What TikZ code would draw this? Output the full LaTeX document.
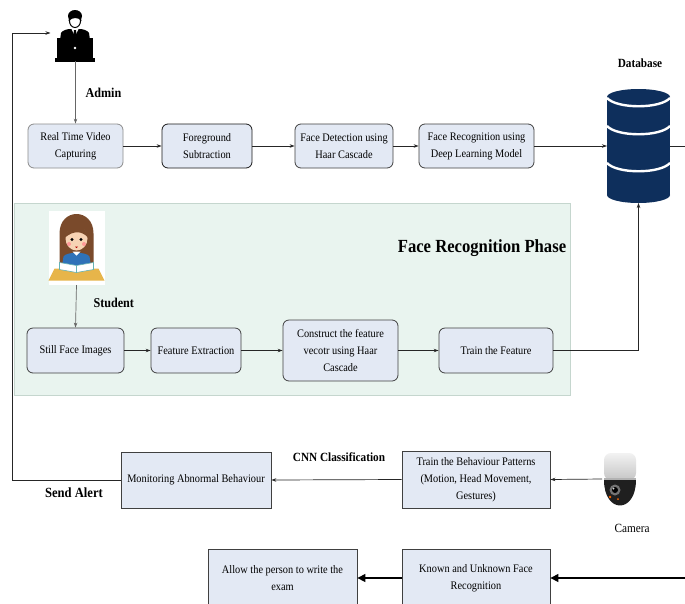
\documentclass[tikz,border=0pt]{standalone}
\usepackage{fontspec}
\setmainfont{Liberation Serif}[FakeStretch=0.9]
\usetikzlibrary{arrows.meta}

\definecolor{boxfill}{HTML}{E3E9F4}
\definecolor{phasefill}{HTML}{E9F4EF}
\definecolor{phaseline}{HTML}{C5D6CE}
\definecolor{dbnavy}{HTML}{0E2F5C}
\definecolor{hairbrown}{HTML}{7A4A2B}
\definecolor{skin}{HTML}{F7D3B4}
\definecolor{dress}{HTML}{2F72B8}
\definecolor{deskyellow}{HTML}{E7B54A}

\newcommand\bxfont{\fontsize{11.5}{17}\selectfont}
\newcommand\lblfont[1]{\fontsize{#1}{#1}\selectfont\bfseries}

\tikzset{
  procbox/.style={draw=black!75, line width=0.8pt, fill=boxfill, rounded corners=6pt,
                  align=center, inner sep=1pt, font=\bxfont},
  sqbox/.style={procbox, sharp corners},
  link/.style={draw=black!85, line width=0.7pt, -{Stealth[length=5pt,width=3.5pt]}},
  plain/.style={draw=black!85, line width=0.7pt},
  bigarrow/.style={draw=black, line width=1.2pt, -{Triangle[length=8pt,width=8pt]}},
  holder/.style={inner sep=0pt, outer sep=0pt},
}

\begin{document}
\begin{tikzpicture}[x=1pt,y=-1pt]
\clip (0,0) rectangle (685,603);
\fill[white] (0,0) rectangle (685,603);

% face recognition phase panel
\filldraw[fill=phasefill, draw=phaseline, line width=0.8pt] (14,203) rectangle (570,395);
\node[font=\lblfont{18.5}] (phase) at (482,248) {Face Recognition Phase};

% ---------- admin icon ----------
\node[holder, minimum width=50pt, minimum height=56pt] (admin) at (75.5,33) {};
\begin{scope}[shift={(75,35)}]
  \fill (0,-19) ellipse (7 and 6);
  \filldraw[fill=white, draw=black, line width=1pt] (0,-14) ellipse (5.5 and 6.5);
  \fill (-6.5,-14) .. controls (-6,-25) and (6,-25) .. (6.5,-14)
        .. controls (3,-18) and (-2,-18) .. (-6.5,-14) -- cycle;
  \fill (-15,5) -- (-14,-2) .. controls (-12,-5) and (-8,-6) .. (-4,-6) -- (4,-6)
        .. controls (8,-6) and (12,-5) .. (14,-2) -- (15,5) -- cycle;
  \fill[white] (-3.5,-6) -- (3.5,-6) -- (0,1) -- cycle;
  \fill (-1,-5) -- (1,-5) -- (1.6,0) -- (0,2.5) -- (-1.6,0) -- cycle;
  \fill (-18,3) rectangle (18,23);
  \fill (-20,23) rectangle (20,27);
  \fill[white] (0,13) circle (1.3);
\end{scope}
\node[font=\lblfont{13.5}, anchor=west] (adminlbl) at (82,93) {Admin};

% ---------- student icon ----------
\node[holder, minimum width=57pt, minimum height=75pt] (student) at (76.5,247.5) {};
\begin{scope}[shift={(76.5,247.5)}]
  \fill[white] (-28,-37) rectangle (28,37);
  \fill[hairbrown] (-17,16) -- (-17,-14) .. controls (-17,-40) and (17,-40) .. (17,-14) -- (17,16) -- cycle;
  \fill[skin] (0,-9) ellipse (11 and 12);
  \fill[hairbrown] (-11.5,-10) .. controls (-9,-26) and (9,-26) .. (11.5,-10)
        .. controls (5,-17) and (-3,-17) .. (-11.5,-10) -- cycle;
  \fill (-4.5,-8) circle (1.7);
  \fill (4.5,-8) circle (1.7);
  \fill[red!40] (-7.5,-3.5) circle (2);
  \fill[red!40] (7.5,-3.5) circle (2);
  \fill[red!70!black] (-1.5,-1) -- (1.5,-1) -- (0,0.5) -- cycle;
  \fill[dress] (-15,22) -- (-13,9) .. controls (-10,4) and (10,4) .. (13,9) -- (15,22) -- cycle;
  \fill[white] (-4,4) -- (4,4) -- (0,8) -- cycle;
  \fill[deskyellow] (-22,21) -- (22,21) -- (28,33) -- (-28,33) -- cycle;
  \filldraw[fill=white, draw=teal!60, line width=0.6pt]
        (-17,15) -- (0,18) -- (17,15) -- (17,22) -- (0,25) -- (-17,22) -- cycle;
  \draw[teal!60, line width=0.5pt] (0,18) -- (0,25);
\end{scope}
\node[font=\lblfont{13.5}, anchor=west] (studentlbl) at (90,303) {Student};

% ---------- database ----------
\node[holder, minimum width=63pt, minimum height=114pt] (db) at (638.5,146) {};
\begin{scope}
  \fill[dbnavy] (607,97) rectangle (670,195);
  \fill[dbnavy] (638.5,97) ellipse (31.5 and 8);
  \fill[dbnavy] (638.5,195) ellipse (31.5 and 8);
  \draw[white, line width=2.4pt] (607,98) .. controls (617,109) and (660,109) .. (670,98);
  \draw[white, line width=2.4pt] (607,126) .. controls (617,137) and (660,137) .. (670,126);
  \draw[white, line width=2.4pt] (607,163) .. controls (617,174) and (660,174) .. (670,163);
\end{scope}
\node[font=\lblfont{12.5}] (dblbl) at (640,63) {Database};

% ---------- camera ----------
\node[holder, minimum width=36pt, minimum height=54pt] (cam) at (620,479) {};
\begin{scope}[shift={(620,479)}]
  \shade[top color=gray!10, bottom color=gray!45, rounded corners=7pt] (-16,1) rectangle (16,-26);
  \fill[gray!60] (-16,-1) rectangle (16,2);
  \fill[black!88] (-16,1) .. controls (-16,35) and (16,35) .. (16,1) -- cycle;
  \fill[black!55] (-5,11) circle (5.5);
  \fill[black] (-5,11) circle (3);
  \fill[white!70!gray] (-6.5,9.5) circle (1);
  \fill[orange!80!red] (-10,18) circle (1.3);
  \fill[orange!80!red] (-2,20) circle (1);
\end{scope}
\node[font=\fontsize{12.5}{13}\selectfont] (camlbl) at (632,528) {Camera};

% ---------- process boxes ----------
\node[procbox, draw=black!45, minimum width=95pt, minimum height=44pt] (rtv) at (75.5,146) {Real Time Video\\Capturing};
\node[procbox, draw=black!90, minimum width=90pt, minimum height=44pt] (fg) at (207,146) {Foreground\\Subtraction};
\node[procbox, minimum width=98pt, minimum height=44pt] (fd) at (344,146) {Face Detection using\\Haar Cascade};
\node[procbox, minimum width=115pt, minimum height=44pt] (fr) at (476.5,146) {Face Recognition using\\Deep Learning Model};

\node[procbox, minimum width=97pt, minimum height=45pt] (sfi) at (75.5,350.5) {Still Face Images};
\node[procbox, minimum width=90pt, minimum height=45pt] (fe) at (196,350.5) {Feature Extraction};
\node[procbox, minimum width=115pt, minimum height=61pt] (cfv) at (340.5,350.5) {Construct the feature\\vecotr using Haar\\Cascade};
\node[procbox, minimum width=114pt, minimum height=45pt] (tf) at (496,350.5) {Train the Feature};

\node[sqbox, minimum width=150pt, minimum height=56pt] (mon) at (196,480) {Monitoring Abnormal Behaviour};
\node[sqbox, minimum width=148pt, minimum height=57pt] (tbp) at (476,479.5) {Train the Behaviour Patterns\\(Motion, Head Movement,\\Gestures)};
\node[sqbox, minimum width=149pt, minimum height=58pt] (allow) at (282.5,578) {Allow the person to write the\\exam};
\node[sqbox, minimum width=148pt, minimum height=58pt] (kuf) at (476,578) {Known and Unknown Face\\Recognition};

% ---------- labels ----------
\node[font=\lblfont{12.5}] (cnnlbl) at (339,457) {CNN Classification};
\node[font=\lblfont{14}] (alertlbl) at (74,493) {Send Alert};

% ---------- connectors ----------
\coordinate (exitR) at (686,146);
\coordinate (inR) at (686,578);

\draw[link, draw=black!60] (admin.south) -- (rtv.north);
\draw[link] (rtv) -- (fg);
\draw[link] (fg) -- (fd);
\draw[link] (fd) -- (fr);
\draw[link] (fr) -- (db.west);
\draw[plain] (db.east) -- (exitR);

\draw[link, draw=black!60] (student.south) -- (sfi.north);
\draw[link] (sfi) -- (fe);
\draw[link] (fe) -- (cfv);
\draw[link] (cfv) -- (tf);
\draw[link] (tf.east) -| (db.south);

\draw[link] (cam.west) -- (tbp.east);
\draw[link] (tbp.west) -- (mon.east);
\draw[link] (mon.west) -- ++(-108,0) |- (admin.west);

\draw[bigarrow] (inR) -- (kuf.east);
\draw[bigarrow] (kuf.west) -- (allow.east);
\end{tikzpicture}
\end{document}
